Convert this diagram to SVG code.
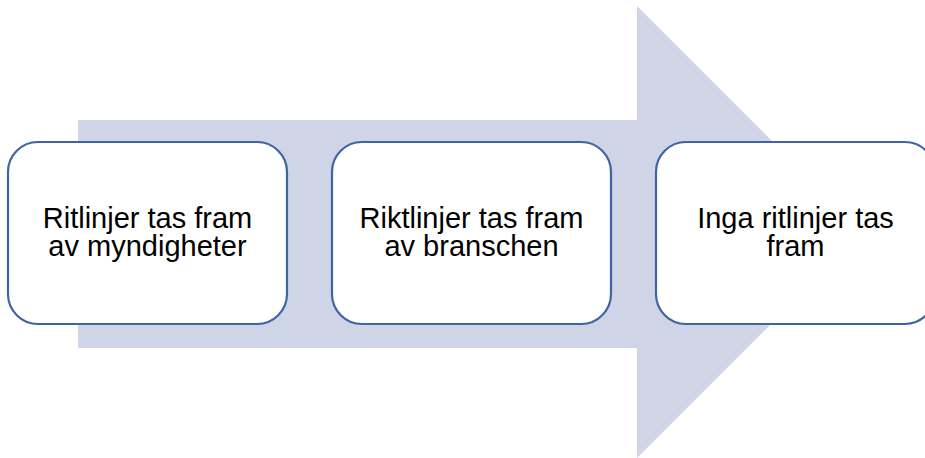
<svg xmlns="http://www.w3.org/2000/svg" width="925" height="458" viewBox="0 0 925 458">
  <style>
    .step { fill: #ffffff; stroke: #3f64a3; stroke-width: 2.2; }
    .label { font-family: "Liberation Sans", Arial, sans-serif; font-size: 29px; fill: #000000; text-anchor: middle; }
  </style>
  <rect width="925" height="458" fill="#ffffff"/>
  <!-- broad background arrow -->
  <g id="connectors">
    <polygon points="78,120 637,120 637,6 863,232 637,458 637,348 78,348" fill="#cfd5e6"/>
  </g>
  <g id="step1">
    <rect class="step" x="8" y="142" width="279" height="182" rx="30" ry="30"/>
    <text class="label" x="147.5" y="228">Ritlinjer tas fram</text>
    <text class="label" x="147.5" y="256">av myndigheter</text>
  </g>
  <g id="step2">
    <rect class="step" x="332" y="142" width="279" height="182" rx="30" ry="30"/>
    <text class="label" x="471.5" y="228">Riktlinjer tas fram</text>
    <text class="label" x="471.5" y="256">av branschen</text>
  </g>
  <g id="step3">
    <rect class="step" x="656" y="142" width="279" height="182" rx="30" ry="30"/>
    <text class="label" x="795.5" y="228">Inga ritlinjer tas</text>
    <text class="label" x="795.5" y="256">fram</text>
  </g>
</svg>
